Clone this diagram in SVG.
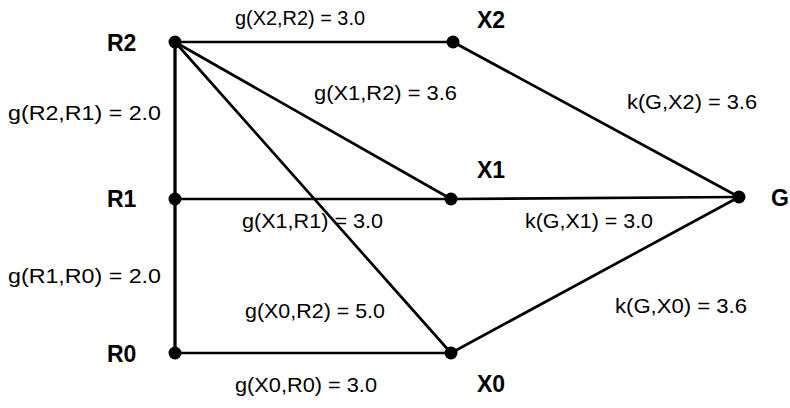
<svg xmlns="http://www.w3.org/2000/svg" width="790" height="408" viewBox="0 0 790 408">
<style>
.e{stroke:#000;stroke-width:2.7;fill:none;stroke-linecap:round}
.v{stroke-width:3.3}
.n{fill:#000}
.nl{font-family:"Liberation Sans",Arial,sans-serif;font-weight:bold;font-size:23px;fill:#000}
.el{font-family:"Liberation Sans",Arial,sans-serif;font-size:21px;fill:#000}
</style>
<rect width="790" height="408" fill="#fff"/>
<g id="connectors">
<line class="e" x1="175" y1="42" x2="453" y2="42"/>
<line class="e" x1="453" y1="42" x2="739" y2="197"/>
<line class="e" x1="175" y1="42" x2="451" y2="199"/>
<line class="e" x1="175" y1="42" x2="451" y2="353"/>
<line class="e v" x1="175" y1="42" x2="175" y2="199"/>
<line class="e" x1="175" y1="199" x2="451" y2="199"/>
<line class="e" x1="451" y1="199" x2="739" y2="197"/>
<line class="e v" x1="175" y1="199" x2="175" y2="353"/>
<line class="e" x1="175" y1="353" x2="451" y2="353"/>
<line class="e" x1="451" y1="353" x2="739" y2="197"/>
</g>
<g id="edge-labels">
<text class="el" x="235" y="25" textLength="130" lengthAdjust="spacingAndGlyphs">g(X2,R2) = 3.0</text>
<text class="el" x="314" y="100" textLength="143" lengthAdjust="spacingAndGlyphs">g(X1,R2) = 3.6</text>
<text class="el" x="8" y="120" textLength="153" lengthAdjust="spacingAndGlyphs">g(R2,R1) = 2.0</text>
<text class="el" x="627" y="109" textLength="130" lengthAdjust="spacingAndGlyphs">k(G,X2) = 3.6</text>
<text class="el" x="242" y="228" textLength="141" lengthAdjust="spacingAndGlyphs">g(X1,R1) = 3.0</text>
<text class="el" x="525" y="228" textLength="128" lengthAdjust="spacingAndGlyphs">k(G,X1) = 3.0</text>
<text class="el" x="8" y="283" textLength="153" lengthAdjust="spacingAndGlyphs">g(R1,R0) = 2.0</text>
<text class="el" x="245" y="318" textLength="140" lengthAdjust="spacingAndGlyphs">g(X0,R2) = 5.0</text>
<text class="el" x="615" y="313" textLength="132" lengthAdjust="spacingAndGlyphs">k(G,X0) = 3.6</text>
<text class="el" x="235" y="392" textLength="142" lengthAdjust="spacingAndGlyphs">g(X0,R0) = 3.0</text>
</g>
<g id="R2"><circle class="n" cx="175" cy="42" r="6.5"/><text class="nl" x="107" y="51">R2</text></g>
<g id="X2"><circle class="n" cx="453" cy="42" r="6.5"/><text class="nl" x="477" y="28">X2</text></g>
<g id="R1"><circle class="n" cx="175" cy="199" r="6.5"/><text class="nl" x="107" y="207">R1</text></g>
<g id="X1"><circle class="n" cx="451" cy="199" r="6.5"/><text class="nl" x="477" y="178">X1</text></g>
<g id="G"><circle class="n" cx="739" cy="197" r="6.5"/><text class="nl" x="771" y="206">G</text></g>
<g id="R0"><circle class="n" cx="175" cy="353" r="6.5"/><text class="nl" x="107" y="362">R0</text></g>
<g id="X0"><circle class="n" cx="451" cy="353" r="6.5"/><text class="nl" x="477" y="392">X0</text></g>
</svg>
